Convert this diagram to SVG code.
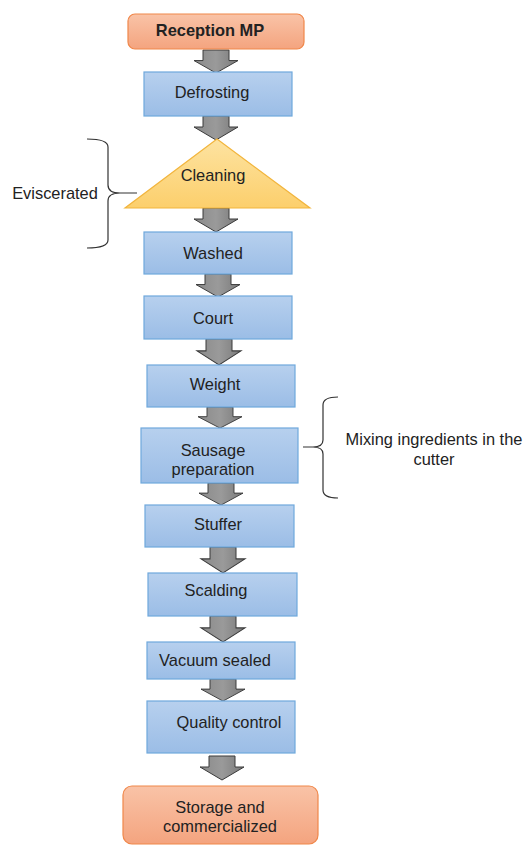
<svg xmlns="http://www.w3.org/2000/svg" xmlns:xlink="http://www.w3.org/1999/xlink" width="525" height="846" viewBox="0 0 525 846">
<style>
text{font-family:"Liberation Sans",Arial,sans-serif;font-size:16.4px;fill:#222;text-anchor:middle;dominant-baseline:central}
.blue{fill:url(#gb);stroke:#6fa8dc;stroke-width:1.2}
.orange{fill:url(#go);stroke:#f0874a;stroke-width:1.2}
.tri{fill:url(#gy);stroke:#f2b53d;stroke-width:1.2}
.arrow{fill:url(#gg);stroke:#3a3a3a;stroke-width:1;vector-effect:non-scaling-stroke}
.brace{fill:none;stroke:#333;stroke-width:1.2}
.note{fill:#222}
</style>
<defs>
<linearGradient id="gb" x1="0" y1="0" x2="0" y2="1"><stop offset="0" stop-color="#b7d0ee"/><stop offset="1" stop-color="#9bbde6"/></linearGradient>
<linearGradient id="go" x1="0" y1="0" x2="0" y2="1"><stop offset="0" stop-color="#f9c3a7"/><stop offset="1" stop-color="#f4a47f"/></linearGradient>
<linearGradient id="gy" x1="0" y1="0" x2="0" y2="1"><stop offset="0" stop-color="#fde3a1"/><stop offset="1" stop-color="#fccf6c"/></linearGradient>
<linearGradient id="gg" x1="0" y1="0" x2="1" y2="0"><stop offset="0" stop-color="#8a8a8a"/><stop offset="0.5" stop-color="#9a9a9a"/><stop offset="1" stop-color="#7a7a7a"/></linearGradient>
<path id="arr" d="M-13,0 H13 V11 H22 L0,24 L-22,11 H-13 Z"/>
</defs>
<rect width="525" height="846" fill="#fff"/>
<g id="connectors">
<use href="#arr" class="arrow" transform="translate(216,50) scale(1,0.96)"/>
<use href="#arr" class="arrow" transform="translate(216,116) scale(1,1)"/>
<use href="#arr" class="arrow" transform="translate(216,208) scale(1,1)"/>
<use href="#arr" class="arrow" transform="translate(218,274) scale(1,0.96)"/>
<use href="#arr" class="arrow" transform="translate(219,339) scale(1,1.08)"/>
<use href="#arr" class="arrow" transform="translate(220,407) scale(1,0.88)"/>
<use href="#arr" class="arrow" transform="translate(221,483) scale(1,0.92)"/>
<use href="#arr" class="arrow" transform="translate(223,547) scale(1,1.08)"/>
<use href="#arr" class="arrow" transform="translate(223,616) scale(1,1.08)"/>
<use href="#arr" class="arrow" transform="translate(223,679) scale(1,0.92)"/>
<use href="#arr" class="arrow" transform="translate(222,756) scale(1,1)"/>
</g>
<g id="reception"><rect class="orange" x="128" y="14" width="176" height="35" rx="7"/><text x="210" y="30" font-weight="bold">Reception MP</text></g>
<g id="defrosting"><rect class="blue" x="144" y="72" width="148" height="44"/><text x="212" y="92">Defrosting</text></g>
<g id="cleaning"><polygon class="tri" points="217,139 310,208 125,208"/><text x="213" y="175">Cleaning</text></g>
<g id="washed"><rect class="blue" x="144" y="232" width="148" height="42"/><text x="213" y="253">Washed</text></g>
<g id="court"><rect class="blue" x="144" y="296" width="148" height="43"/><text x="213" y="318">Court</text></g>
<g id="weight"><rect class="blue" x="147" y="365" width="148" height="42"/><text x="215" y="384">Weight</text></g>
<g id="sausage"><rect class="blue" x="141" y="428" width="157" height="55"/><text x="213" y="450">Sausage</text><text x="213" y="469">preparation</text></g>
<g id="stuffer"><rect class="blue" x="145" y="505" width="149" height="42"/><text x="218" y="524">Stuffer</text></g>
<g id="scalding"><rect class="blue" x="148" y="573" width="149" height="43"/><text x="216" y="590">Scalding</text></g>
<g id="vacuum"><rect class="blue" x="147" y="642" width="148" height="37"/><text x="215" y="660">Vacuum sealed</text></g>
<g id="quality"><rect class="blue" x="147" y="701" width="148" height="52"/><text x="229" y="722">Quality control</text></g>
<g id="storage"><rect class="orange" x="123" y="786" width="195" height="58" rx="9"/><text x="220" y="807">Storage and</text><text x="220" y="826">commercialized</text></g>
<g id="eviscerated">
<path class="brace" d="M87,139 Q108,139 108,147 V185 Q108,193 120,193 H137 M120,193 Q108,193 108,201 V240 Q108,248 87,248"/>
<text class="note" x="55" y="193">Eviscerated</text>
</g>
<g id="mixing">
<path class="brace" d="M338,397 Q323,397 323,405 V440 Q323,447 313,447 H303 M313,447 Q323,447 323,454 V490 Q323,498 338,498"/>
<text class="note" x="434" y="439">Mixing ingredients in the</text>
<text class="note" x="434" y="459">cutter</text>
</g>
</svg>
